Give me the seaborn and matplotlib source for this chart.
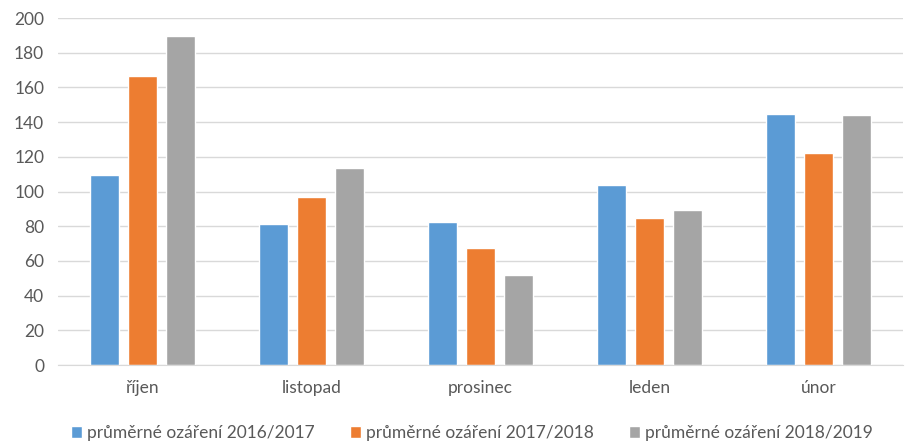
import seaborn as sns
import pandas as pd
import matplotlib.pyplot as plt

months = ["říjen", "listopad", "prosinec", "leden", "únor"]
series = ["průměrné ozáření 2016/2017", "průměrné ozáření 2017/2018", "průměrné ozáření 2018/2019"]
v2016 = [109.4, 81.5, 82.3, 103.6, 144.7]
v2017 = [166.6, 96.7, 67.2, 84.6, 122.1]
v2018 = [189.8, 113.5, 51.6, 89.2, 144.1]

colors = ["#5B9BD5", "#ED7D31", "#A5A5A5"]

df = pd.DataFrame({
    "month": months * 3,
    "series": [series[0]] * 5 + [series[1]] * 5 + [series[2]] * 5,
    "value": v2016 + v2017 + v2018,
})

sns.set_style("white")
plt.rcParams["font.family"] = ["Lato", "DejaVu Sans"]

fig = plt.figure(figsize=(9.11, 4.47), dpi=100)
ax = fig.add_axes([0.0637, 0.1834, 0.9275, 0.7763])

sns.barplot(data=df, x="month", y="value", hue="series", palette=colors,
            width=0.675, gap=0.22, saturation=1, ax=ax)

ax.set_ylim(0, 200)
ax.set_xlim(-0.5, 4.5)
ax.set_yticks(range(0, 201, 20))
ax.yaxis.grid(True, color="#D9D9D9", linewidth=1)
ax.set_axisbelow(True)
for s in ["top", "right", "left"]:
    ax.spines[s].set_visible(False)
ax.spines["bottom"].set_color("#D9D9D9")
ax.set_xlabel("")
ax.set_ylabel("")
ax.tick_params(axis="both", length=0, labelsize=12.5, labelcolor="#595959")
ax.tick_params(axis="x", pad=11)
ax.tick_params(axis="y", pad=10)

sns.move_legend(ax, "center", bbox_to_anchor=(0.49, -0.196), ncol=3, frameon=False,
                title=None, fontsize=12.5, handlelength=0.65, handleheight=0.65,
                handletextpad=0.3, columnspacing=2.0, labelcolor="#595959")

fig.savefig("out.png", dpi=100)
